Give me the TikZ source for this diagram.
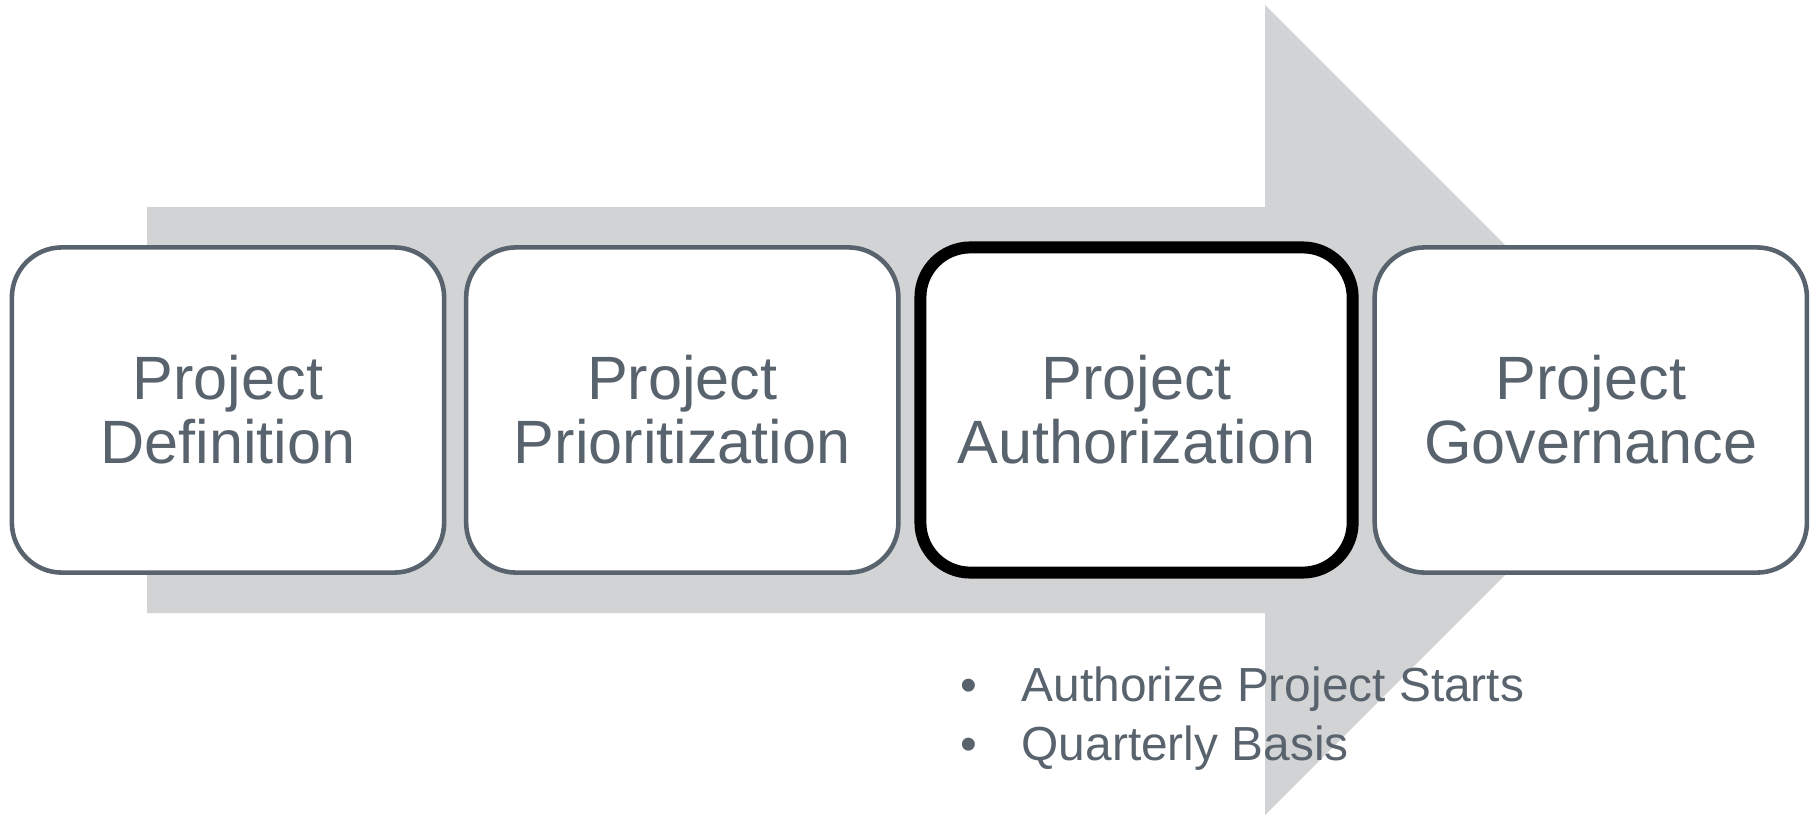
\documentclass[tikz,border=0pt]{standalone}
\usepackage{fontspec}
\setmainfont{Liberation Sans}
\usepackage{tikz}
\usetikzlibrary{positioning}
\definecolor{slate}{RGB}{88,99,109}
\definecolor{arrowgray}{RGB}{210,211,213}
\tikzset{
  phase/.style={draw=slate, line width=1.3pt, fill=white, rounded corners=0.5cm,
    minimum width=4.32cm, minimum height=3.25cm, outer sep=0pt, align=center,
    text=slate, font=\fontsize{17.4}{18.2}\selectfont},
  current/.style={phase, draw=black, line width=3.4pt},
  bullets/.style={align=left, text=slate, inner sep=0pt,
    font=\fontsize{13.6}{16.5}\selectfont}
}
\begin{document}
\begin{tikzpicture}[x=0.01cm, y=-0.01cm, node distance=0.22cm]
\useasboundingbox (0,0) rectangle (1813,815);
\fill[arrowgray] (147,207) -- (1265,207) -- (1265,5) -- (1670,410)
  -- (1265,815) -- (1265,613) -- (147,613) -- cycle;
\node[phase] (definition) at (228,410) {Project\\Definition};
\node[phase, right=of definition] (prioritization) {Project\\Prioritization};
\node[current, right=of prioritization] (authorization) {Project\\Authorization};
\node[phase, right=of authorization] (governance) {Project\\Governance};
\node[bullets, anchor=base west] (notes) at (960,760)
  {\makebox[0.61cm][l]{\textbullet}Authorize Project Starts\\
   \makebox[0.61cm][l]{\textbullet}Quarterly Basis};
\end{tikzpicture}
\end{document}
